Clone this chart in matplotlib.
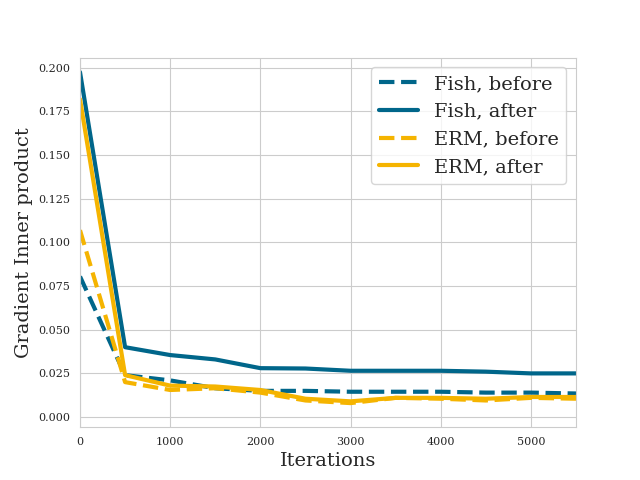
import matplotlib
matplotlib.use("Agg")
import matplotlib.pyplot as plt
import seaborn as sns

sns.set_style("whitegrid")
plt.rcParams['font.family'] = ['DejaVu Serif']

iterations = [0, 500, 1000, 1500, 2000, 2500, 3000, 3500, 4000, 4500, 5000, 5500]
fish_before = [0.0805, 0.024, 0.021, 0.0165, 0.015, 0.015, 0.0145, 0.0145, 0.0145, 0.014, 0.014, 0.0135]
fish_after = [0.1975, 0.040, 0.0355, 0.033, 0.028, 0.0278, 0.0265, 0.0265, 0.0265, 0.026, 0.025, 0.025]
erm_before = [0.107, 0.020, 0.0155, 0.0165, 0.014, 0.0095, 0.008, 0.011, 0.0105, 0.0095, 0.011, 0.0105]
erm_after = [0.182, 0.024, 0.018, 0.0175, 0.0155, 0.0105, 0.009, 0.011, 0.011, 0.0105, 0.0115, 0.0115]

fish_color = "#00668a"
erm_color = "#f5b400"

fig, ax = plt.subplots(figsize=(6.4, 4.8), dpi=100)
ax.plot(iterations, fish_before, color=fish_color, lw=3, ls="--", label="Fish, before")
ax.plot(iterations, fish_after, color=fish_color, lw=3, ls="-", label="Fish, after")
ax.plot(iterations, erm_before, color=erm_color, lw=3, ls="--", label="ERM, before")
ax.plot(iterations, erm_after, color=erm_color, lw=3, ls="-", label="ERM, after")

ax.set_xlim(0, 5500)
ax.set_ylim(-0.0058, 0.2058)
ax.set_xticks([0, 1000, 2000, 3000, 4000, 5000])
ax.set_yticks([0.0, 0.025, 0.05, 0.075, 0.1, 0.125, 0.15, 0.175, 0.2])
ax.tick_params(labelsize=8)
ax.set_xlabel("Iterations", fontsize=14)
ax.set_ylabel("Gradient Inner product", fontsize=14)
ax.legend(fontsize=14, loc="upper right")

fig.savefig("out.png", dpi=100)
